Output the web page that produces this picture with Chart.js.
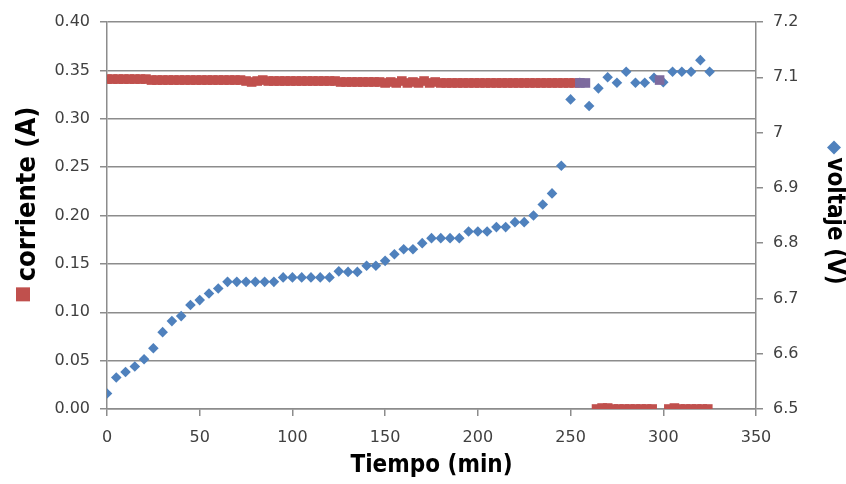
<!DOCTYPE html>
<html lang="es">
<head>
    <meta charset="UTF-8">
    <title>corriente y voltaje</title>
    <script src="https://cdn.jsdelivr.net/npm/chart.js"></script>
    <style>
        html, body { margin: 0; padding: 0; background: #fff; }
        #wrap { width: 846px; height: 484px; }
    </style>
</head>
<body>
    <div id="wrap"><canvas id="chart" width="846" height="484"></canvas></div>

    <script>
        // Tiempo (min) de cada lectura de corriente
        const currentTime = [
            0, 3, 6, 9, 12, 15, 18, 21,
            24, 27, 30, 33, 36, 39, 42, 45, 48, 51, 54, 57, 60, 63, 66, 69, 72,
            75, 78, 81, 84, 87,
            90, 93, 96, 99, 102, 105, 108, 111, 114, 117, 120, 123,
            126, 129, 132, 135, 138, 141, 144, 147,
            150, 153, 156, 159, 162, 165, 168, 171, 174, 177, 180,
            183, 186, 189, 192, 195, 198, 201, 204, 207, 210, 213, 216, 219,
            222, 225, 228, 231, 234, 237, 240, 243, 246, 249, 252, 255, 258,
            264, 267, 270, 273, 276, 279, 282, 285, 288, 291, 294,
            298,
            303, 306, 309, 312, 315, 318, 321, 324
        ];
        // corriente (A)
        const currentValues = [
            0.341, 0.341, 0.341, 0.341, 0.341, 0.341, 0.341, 0.341,
            0.340, 0.340, 0.340, 0.340, 0.340, 0.340, 0.340, 0.340, 0.340, 0.340, 0.340, 0.340, 0.340, 0.340, 0.340, 0.340, 0.340,
            0.339, 0.338, 0.339, 0.340, 0.339,
            0.339, 0.339, 0.339, 0.339, 0.339, 0.339, 0.339, 0.339, 0.339, 0.339, 0.339, 0.339,
            0.338, 0.338, 0.338, 0.338, 0.338, 0.338, 0.338, 0.338,
            0.337, 0.338, 0.337, 0.339, 0.337, 0.338, 0.337, 0.339, 0.337, 0.338, 0.337,
            0.337, 0.337, 0.337, 0.337, 0.337, 0.337, 0.337, 0.337, 0.337, 0.337, 0.337, 0.337, 0.337,
            0.337, 0.337, 0.337, 0.337, 0.337, 0.337, 0.337, 0.337, 0.337, 0.337, 0.337, 0.337, 0.337,
            0.000, 0.001, 0.001, 0.000, 0.000, 0.000, 0.000, 0.000, 0.000, 0.000, 0.000,
            0.340,
            0.000, 0.001, 0.000, 0.000, 0.000, 0.000, 0.000, 0.000
        ];

        // Tiempo (min) de cada lectura de voltaje
        const voltageTime = [
            0, 5, 10, 15, 20, 25, 30, 35, 40, 45, 50, 55, 60, 65, 70, 75, 80, 85, 90, 95,
            100, 105, 110, 115, 120, 125, 130, 135, 140, 145, 150, 155, 160, 165, 170, 175, 180, 185, 190, 195,
            200, 205, 210, 215, 220, 225, 230, 235, 240, 245, 250, 255, 260, 265, 270, 275, 280, 285, 290, 295,
            300, 305, 310, 315, 320, 325
        ];
        // voltaje (V)
        const voltageValues = [
            6.528, 6.557, 6.567, 6.577, 6.590, 6.610, 6.639, 6.659, 6.668, 6.688,
            6.697, 6.709, 6.718, 6.730, 6.730, 6.730, 6.730, 6.730, 6.730, 6.738,
            6.738, 6.738, 6.738, 6.738, 6.738, 6.749, 6.748, 6.748, 6.759, 6.759,
            6.768, 6.780, 6.789, 6.789, 6.800, 6.809, 6.809, 6.809, 6.809, 6.821,
            6.821, 6.821, 6.829, 6.829, 6.838, 6.838, 6.850, 6.870, 6.890, 6.940,
            7.060, 7.090, 7.048, 7.080, 7.100, 7.090, 7.110, 7.090, 7.090, 7.099,
            7.091, 7.110, 7.110, 7.110, 7.131, 7.110
        ];

        // marcas de los ejes
        const timeTicks = [0, 50, 100, 150, 200, 250, 300, 350];
        const currentTicks = [0, 0.05, 0.10, 0.15, 0.20, 0.25, 0.30, 0.35, 0.40];
        const voltageTicks = [6.5, 6.6, 6.7, 6.8, 6.9, 7.0, 7.1, 7.2];

        const RED = '#c0504d';
        const BLUE = '#4f81bd';
        const MIXED = '#7d6a9e';
        const GRID = '#8c8c8c';
        const TICK_FONT = { family: '"DejaVu Sans", Verdana, sans-serif', size: 16 };
        const TITLE_FONT = 'bold 24px "DejaVu Sans Condensed", "DejaVu Sans", sans-serif';
        const LEFT_TITLE_FONT = 'bold 27px "DejaVu Sans Condensed", "DejaVu Sans", sans-serif';

        // titulos de los ejes con su marcador de leyenda
        const axisTitles = {
            id: 'axisTitles',
            afterDraw(chart) {
                const { ctx, chartArea } = chart;
                ctx.save();
                ctx.fillStyle = '#000';
                ctx.textAlign = 'center';
                ctx.textBaseline = 'middle';

                ctx.font = TITLE_FONT;
                ctx.fillText('Tiempo (min)', (chartArea.left + chartArea.right) / 2, chartArea.bottom + 57);

                // izquierdo
                ctx.font = LEFT_TITLE_FONT;
                const lw = ctx.measureText('corriente (A)').width;
                ctx.save();
                ctx.translate(28, 194);
                ctx.rotate(-Math.PI / 2);
                ctx.fillText('corriente (A)', 0, 0);
                ctx.restore();
                ctx.fillStyle = RED;
                ctx.fillRect(16, 194 + lw / 2 + 6, 14, 14);

                // derecho
                ctx.font = TITLE_FONT;
                ctx.fillStyle = '#000';
                const rw = ctx.measureText('voltaje (V)').width;
                ctx.save();
                ctx.translate(834, 221);
                ctx.rotate(Math.PI / 2);
                ctx.fillText('voltaje (V)', 0, 0);
                ctx.restore();
                const dy = 221 - rw / 2 - 10;
                ctx.fillStyle = BLUE;
                ctx.beginPath();
                ctx.moveTo(834, dy - 7);
                ctx.lineTo(841, dy);
                ctx.lineTo(834, dy + 7);
                ctx.lineTo(827, dy);
                ctx.closePath();
                ctx.fill();
                ctx.restore();
            }
        };

        new Chart(document.getElementById('chart'), {
            type: 'scatter',
            data: {
                datasets: [{
                    label: 'corriente (A)',
                    data: currentTime.map((t, i) => ({ x: t, y: currentValues[i] })),
                    yAxisID: 'y',
                    pointStyle: 'rect',
                    pointRadius: 6.8,
                    pointBorderWidth: 0,
                    pointBackgroundColor: c => (c.raw && c.raw.x >= 253 && c.raw.y > 0.3) ? MIXED : RED,
                    pointBorderColor: 'transparent'
                }, {
                    label: 'voltaje (V)',
                    data: voltageTime.map((t, i) => ({ x: t, y: voltageValues[i] })),
                    yAxisID: 'y1',
                    pointStyle: 'rectRot',
                    pointRadius: 5.3,
                    pointBorderWidth: 0,
                    pointBackgroundColor: BLUE,
                    pointBorderColor: 'transparent'
                }]
            },
            options: {
                responsive: false,
                animation: false,
                devicePixelRatio: 1,
                layout: { padding: { top: 22, left: 0, right: 0, bottom: 0 } },
                plugins: { legend: { display: false }, tooltip: { enabled: false } },
                scales: {
                    x: {
                        type: 'linear',
                        min: 0, max: 350,
                        afterFit: s => { s.height = 75; },
                        afterBuildTicks: s => { s.ticks = timeTicks.map(v => ({ value: v })); },
                        ticks: { font: TICK_FONT, color: '#404040', padding: 12, maxRotation: 0 },
                        grid: { drawOnChartArea: false, color: GRID, tickLength: 7, lineWidth: 1.5 },
                        border: { color: GRID, width: 1.5 }
                    },
                    y: {
                        position: 'left',
                        min: 0, max: 0.4,
                        afterFit: s => { s.width = 107; },
                        afterBuildTicks: s => { s.ticks = currentTicks.map(v => ({ value: v })); },
                        ticks: { font: TICK_FONT, color: '#404040', padding: 10, callback: v => v.toFixed(2) },
                        grid: { color: GRID, tickLength: 7, lineWidth: 1.5 },
                        border: { color: GRID, width: 1.5 }
                    },
                    y1: {
                        position: 'right',
                        min: 6.5, max: 7.2,
                        afterFit: s => { s.width = 90; },
                        afterBuildTicks: s => { s.ticks = voltageTicks.map(v => ({ value: v })); },
                        ticks: { font: TICK_FONT, color: '#404040', padding: 10, callback: v => String(Number(v.toFixed(1))) },
                        grid: { drawOnChartArea: false, color: GRID, tickLength: 7, lineWidth: 1.5 },
                        border: { color: GRID, width: 1.5 }
                    }
                }
            },
            plugins: [axisTitles]
        });
    </script>
</body>
</html>
